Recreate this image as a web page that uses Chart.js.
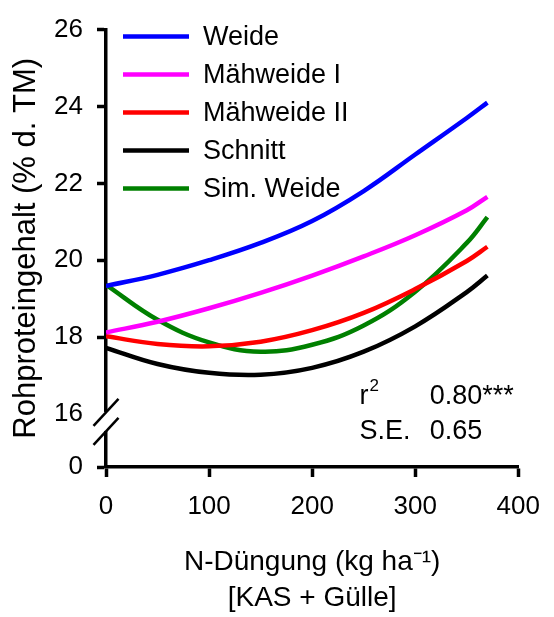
<!DOCTYPE html>
<html>
<head>
<meta charset="utf-8">
<script src="https://cdn.jsdelivr.net/npm/chart.js@4/dist/chart.umd.min.js"></script>
<style>
  body { margin: 0; background: #fff; }
  #wrap { width: 554px; height: 617px; }
</style>
</head>
<body>
<div id="wrap"><canvas id="myChart" width="554" height="617"></canvas></div>
<script>
var n_levels = [0, 50, 100, 150, 200, 250, 300, 350, 370]

// Rohproteingehalt (% d. TM) per system
var weide = [19.33, 19.62, 20.0, 20.45, 21.02, 21.8, 22.75, 23.7, 24.1]
var maehweide_1 = [18.12, 18.4, 18.75, 19.15, 19.6, 20.1, 20.65, 21.3, 21.65]
var maehweide_2 = [18.02, 17.82, 17.76, 17.88, 18.18, 18.63, 19.25, 19.98, 20.35]
var schnitt = [17.72, 17.3, 17.07, 17.02, 17.2, 17.62, 18.28, 19.17, 19.6]
var sim_weide = [19.36, 18.45, 17.86, 17.62, 17.8, 18.3, 19.18, 20.45, 21.12]

var series_names = ['Weide', 'Mähweide I', 'Mähweide II', 'Schnitt', 'Sim. Weide']
var series_colors = ['#0000ff', '#ff00ff', '#ff0000', '#000000', '#008000']

// y ticks; the lowest one stands for the "0" below the axis break
var fake_zero = 14.62
var y_ticks = [fake_zero, 16, 18, 20, 22, 24, 26]
var x_ticks = [0, 100, 200, 300, 400]

var stats_r2 = '0.80***'
var stats_se = '0.65'

var FONT = '"Liberation Sans", Arial, sans-serif'

function to_points(vals) {
    var pts = []
    for (let i = 0; i < n_levels.length; i++) {
        pts.push({x: n_levels[i], y: vals[i]})
    }
    return pts
}

var all_series = [weide, maehweide_1, maehweide_2, schnitt, sim_weide]
var datasets = []
for (let i = 0; i < all_series.length; i++) {
    datasets.push({
        label: series_names[i],
        data: to_points(all_series[i]),
        borderColor: series_colors[i],
        backgroundColor: series_colors[i],
        borderWidth: 4.5,
        pointRadius: 0,
        fill: false,
        tension: 0.4
    })
}

// legend inside the plot, top left
const insideLegend = {
    id: 'insideLegend',
    afterDraw(chart) {
        const ctx = chart.ctx
        const area = chart.chartArea
        ctx.save()
        ctx.font = '27px ' + FONT
        ctx.textBaseline = 'middle'
        ctx.textAlign = 'left'
        chart.data.datasets.forEach(function (ds, i) {
            var y = area.top + 7 + i * 38
            ctx.strokeStyle = ds.borderColor
            ctx.lineWidth = 4.5
            ctx.beginPath()
            ctx.moveTo(area.left + 17, y)
            ctx.lineTo(area.left + 83, y)
            ctx.stroke()
            ctx.fillStyle = '#000'
            ctx.fillText(ds.label, area.left + 97, y + 1)
        })
        ctx.restore()
    }
}

// r2 and S.E. text bottom right
const statsText = {
    id: 'statsText',
    afterDraw(chart) {
        const ctx = chart.ctx
        const xs = chart.scales.x
        const ys = chart.scales.y
        var y16 = ys.getPixelForValue(16)
        var xa = xs.getPixelForValue(246)
        var xb = xs.getPixelForValue(314)
        ctx.save()
        ctx.fillStyle = '#000'
        ctx.textBaseline = 'middle'
        ctx.textAlign = 'left'
        ctx.font = '27px ' + FONT
        ctx.fillText('r', xa, y16 - 17)
        ctx.fillText(stats_r2, xb, y16 - 17)
        ctx.fillText('S.E.', xa, y16 + 18)
        ctx.fillText(stats_se, xb, y16 + 18)
        ctx.font = '17px ' + FONT
        ctx.fillText('2', xa + 10, y16 - 28)
        ctx.restore()
    }
}

// axis break marks on the y axis
const axisBreak = {
    id: 'axisBreak',
    afterDraw(chart) {
        const ctx = chart.ctx
        const ys = chart.scales.y
        var x = chart.chartArea.left
        var y16 = ys.getPixelForValue(16)
        ctx.save()
        ctx.fillStyle = '#fff'
        ctx.fillRect(x - 3, y16 - 2, 6, 19)
        ctx.strokeStyle = '#000'
        ctx.lineWidth = 2.5
        var centers = [y16 - 1.5, y16 + 17.5]
        centers.forEach(function (c) {
            ctx.beginPath()
            ctx.moveTo(x - 12.5, c + 13.5)
            ctx.lineTo(x + 12.5, c - 13.5)
            ctx.stroke()
        })
        ctx.restore()
    }
}

const ctx = document.getElementById('myChart')

new Chart(ctx, {
    type: 'line',
    data: { datasets: datasets },
    options: {
        responsive: false,
        animation: false,
        layout: { padding: { top: 22, right: 32, left: 0, bottom: 0 } },
        plugins: {
            legend: { display: false },
            tooltip: { enabled: false }
        },
        scales: {
            x: {
                type: 'linear',
                min: 0,
                max: 400,
                afterBuildTicks: function (scale) {
                    scale.ticks = x_ticks.map(function (v) { return {value: v} })
                },
                afterFit: function (scale) { scale.height = 150 },
                border: { display: true, color: '#000', width: 3.5 },
                grid: { drawOnChartArea: false, drawTicks: true, tickLength: 10, tickWidth: 3.5, tickColor: '#000' },
                ticks: { color: '#000', font: { family: FONT, size: 26 }, padding: 14, maxRotation: 0 },
                title: {
                    display: true,
                    text: ['N-Düngung (kg ha⁻¹)', '[KAS + Gülle]'],
                    color: '#000',
                    font: { family: FONT, size: 28, lineHeight: 1.28 },
                    padding: { top: 0, bottom: 1 }
                }
            },
            y: {
                type: 'linear',
                min: fake_zero,
                max: 26,
                afterBuildTicks: function (scale) {
                    scale.ticks = y_ticks.map(function (v) { return {value: v} })
                },
                afterFit: function (scale) { scale.width = 106 },
                border: { display: true, color: '#000', width: 3.5 },
                grid: {
                    drawOnChartArea: false,
                    drawTicks: true,
                    tickLength: 9,
                    tickWidth: 3.5,
                    tickColor: function (c) {
                        return (c.tick && c.tick.value === 16) ? 'rgba(0,0,0,0)' : '#000'
                    }
                },
                ticks: {
                    color: '#000',
                    font: { family: FONT, size: 26 },
                    padding: 14,
                    callback: function (v) { return v < 15 ? '0' : v }
                },
                title: {
                    display: true,
                    text: 'Rohproteingehalt (% d. TM)',
                    color: '#000',
                    font: { family: FONT, size: 31 },
                    padding: { top: 8, bottom: 0 }
                }
            }
        }
    },
    plugins: [insideLegend, statsText, axisBreak]
})
</script>
</body>
</html>
